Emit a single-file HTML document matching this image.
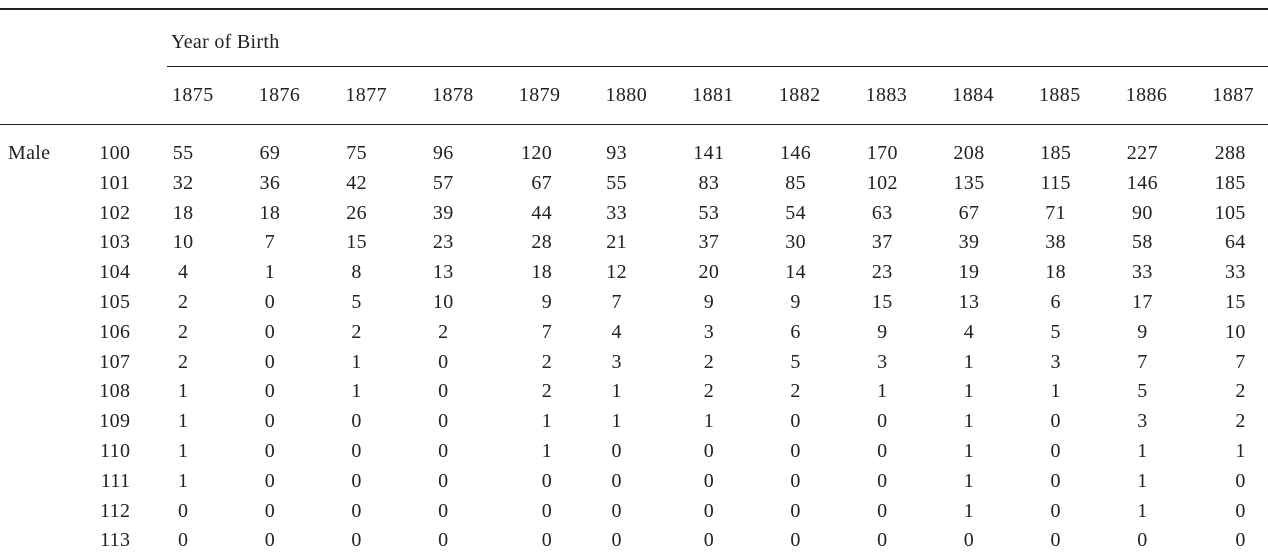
<!DOCTYPE html>
<html><head><meta charset="utf-8"><style>
html,body{margin:0;padding:0;background:#fff;}
#t{position:relative;width:1268px;height:555px;overflow:hidden;font-family:"Liberation Serif",serif;font-size:20px;letter-spacing:0.4px;color:#222;}
.c{position:absolute;line-height:22px;white-space:nowrap;}
.r{position:absolute;background:#222;}
</style></head><body>
<div id="t">
<div class="r" style="left:0;top:8px;width:1268px;height:1.5px"></div>
<div class="c" style="left:171px;top:31px;letter-spacing:0.3px">Year of Birth</div>
<div class="r" style="left:167px;top:66px;width:1101px;height:1px"></div>
<div class="r" style="left:0;top:124px;width:1268px;height:1.2px"></div>
<div class="c" style="left:8px;top:142px;letter-spacing:0.3px">Male</div>
</div>
<script>
const years=[1875,1876,1877,1878,1879,1880,1881,1882,1883,1884,1885,1886,1887];
const ages=[100,101,102,103,104,105,106,107,108,109,110,111,112,113];
const row100=[55,69,75,96,120,93,141,146,170,208,185,227,288];
const row101=[32,36,42,57,67,55,83,85,102,135,115,146,185];
const row102=[18,18,26,39,44,33,53,54,63,67,71,90,105];
const row103=[10,7,15,23,28,21,37,30,37,39,38,58,64];
const row104=[4,1,8,13,18,12,20,14,23,19,18,33,33];
const row105=[2,0,5,10,9,7,9,9,15,13,6,17,15];
const row106=[2,0,2,2,7,4,3,6,9,4,5,9,10];
const row107=[2,0,1,0,2,3,2,5,3,1,3,7,7];
const row108=[1,0,1,0,2,1,2,2,1,1,1,5,2];
const row109=[1,0,0,0,1,1,1,0,0,1,0,3,2];
const row110=[1,0,0,0,1,0,0,0,0,1,0,1,1];
const row111=[1,0,0,0,0,0,0,0,0,1,0,1,0];
const row112=[0,0,0,0,0,0,0,0,0,1,0,1,0];
const row113=[0,0,0,0,0,0,0,0,0,0,0,0,0];
const rows=[row100,row101,row102,row103,row104,row105,row106,row107,row108,row109,row110,row111,row112,row113];
const t=document.getElementById('t');
const DIG=11;
function colLeft(i){return 172+86.7*i;}
function rowY(j){return 153+29.8*j;}
function put(txt,x,y,align){
  const d=document.createElement('div');d.className='c';d.textContent=txt;
  d.style.top=(y-11)+'px';
  if(align==='right'){d.style.right=(1268-x-0.4)+'px';}
  else if(align==='left'){d.style.left=x+'px';}
  else{d.style.left=(x-60+0.2)+'px';d.style.width='120px';d.style.textAlign='center';}
  t.appendChild(d);return d;
}
years.forEach((y,i)=>{
  const d=put(String(y),colLeft(i),95,'left');
  
  
});
const maxDigits=years.map((y,i)=>Math.max(...rows.map(r=>String(r[i]).length)));
ages.forEach((a,j)=>{
  const d=put(String(a),130,rowY(j),'right');
  
  
  rows[j].forEach((v,i)=>{
    const w=maxDigits[i]*DIG;
    const rightAl=(i===4||i===12);
    const e=rightAl?put(String(v),colLeft(i)+w,rowY(j),'right'):put(String(v),colLeft(i)+w/2,rowY(j),'center');
    
    
  });
});
</script>
</body></html>
